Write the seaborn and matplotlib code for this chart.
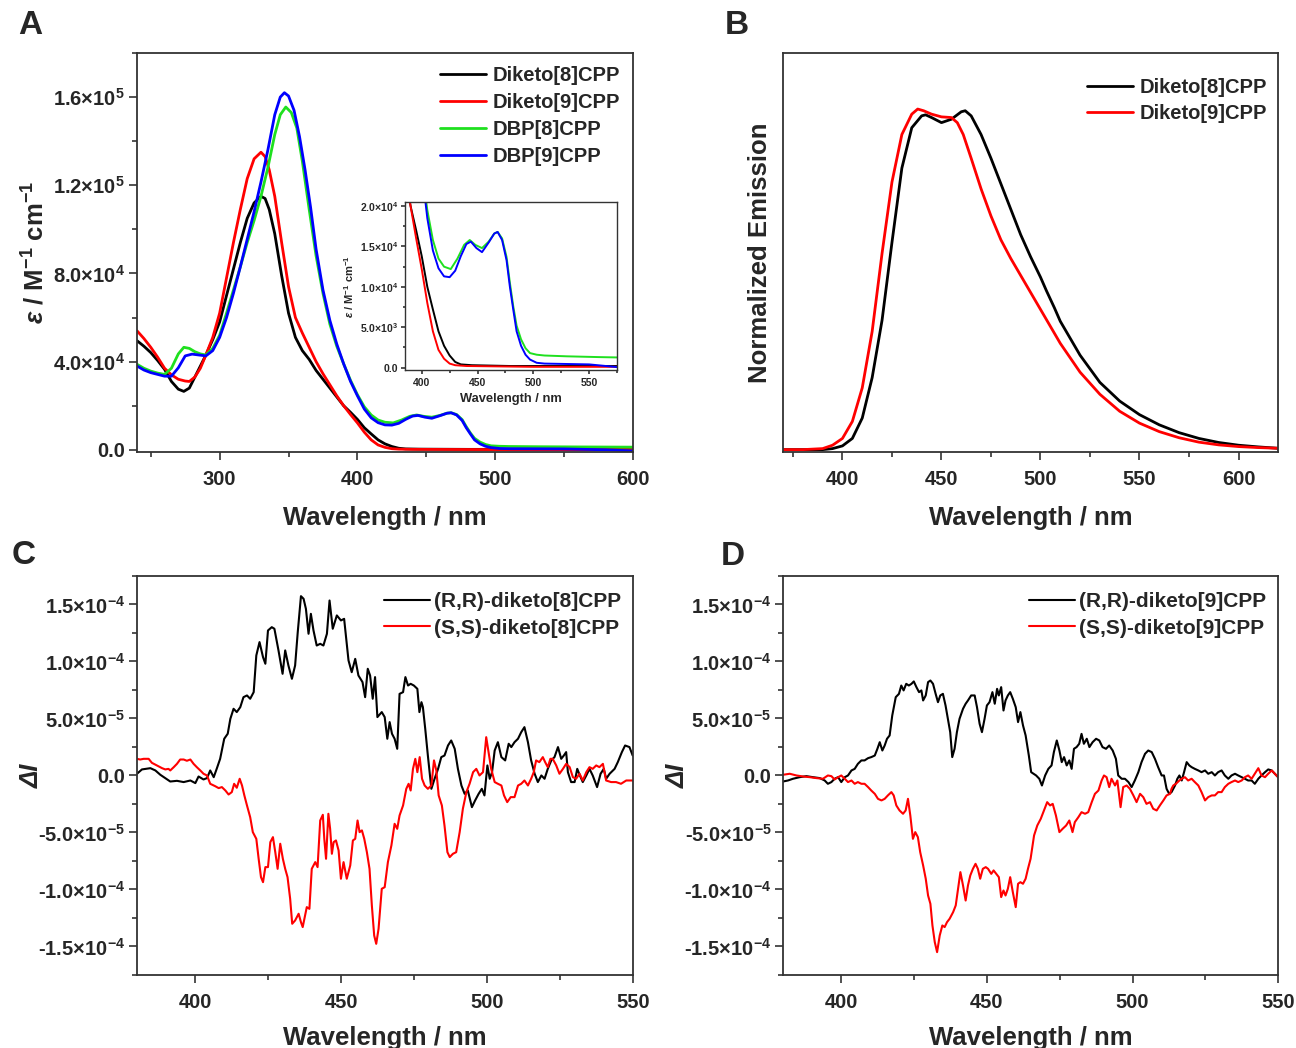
import numpy as np
import pandas as pd
import matplotlib
matplotlib.use("Agg")
import matplotlib.pyplot as plt
from matplotlib.ticker import MultipleLocator, AutoMinorLocator, FuncFormatter
import seaborn as sns

# ---------------- data ----------------
# Panel A: absorption, epsilon in units of 1e4 M^-1 cm^-1
abs_diketo8 = [(240, 4.95), (245, 4.7), (250, 4.41), (255, 4.05), (260, 3.65), (265, 3.1), (270, 2.75),
               (274, 2.65), (278, 2.8), (282, 3.3), (286, 3.8), (290, 4.3), (295, 5.0), (300, 5.8),
               (305, 7.0), (310, 8.2), (315, 9.4), (320, 10.5), (325, 11.2), (330, 11.5), (333, 11.4),
               (336, 10.9), (340, 9.8), (345, 7.9), (350, 6.2), (355, 5.1), (360, 4.5), (365, 4.1),
               (370, 3.6), (375, 3.2), (380, 2.8), (385, 2.4), (390, 2.0), (395, 1.7), (400, 1.38),
               (405, 1.0), (410, 0.72), (415, 0.45), (420, 0.27), (425, 0.15), (430, 0.07), (435, 0.04),
               (445, 0.03), (480, 0.02), (540, 0.02), (600, 0.02)]
abs_diketo9 = [(240, 5.4), (245, 5.05), (250, 4.65), (255, 4.2), (260, 3.7), (265, 3.4), (270, 3.2),
               (275, 3.12), (278, 3.1), (282, 3.3), (286, 3.7), (290, 4.3), (295, 5.1), (300, 6.2),
               (305, 7.8), (310, 9.4), (315, 10.9), (320, 12.3), (325, 13.2), (330, 13.5), (333, 13.3),
               (336, 12.7), (340, 11.5), (345, 9.4), (350, 7.4), (355, 6.0), (360, 5.3), (365, 4.65),
               (370, 4.0), (375, 3.45), (380, 2.95), (385, 2.45), (390, 2.0), (395, 1.6), (400, 1.22),
               (405, 0.8), (410, 0.45), (415, 0.22), (420, 0.11), (425, 0.05), (430, 0.03), (440, 0.02),
               (500, 0.01), (600, 0.01)]
abs_dbp8 = [(240, 3.88), (245, 3.7), (250, 3.57), (255, 3.48), (260, 3.42), (265, 3.7), (270, 4.35),
            (274, 4.65), (278, 4.6), (282, 4.45), (286, 4.35), (290, 4.3), (295, 4.6), (300, 5.2),
            (305, 6.2), (310, 7.25), (315, 8.3), (320, 9.4), (325, 10.4), (330, 11.5), (335, 12.8),
            (340, 14.3), (344, 15.2), (348, 15.55), (352, 15.3), (356, 14.6), (360, 13.1), (365, 10.9),
            (370, 8.8), (375, 7.1), (380, 5.7), (385, 4.7), (390, 3.9), (395, 3.15), (400, 2.5),
            (405, 1.95), (410, 1.58), (415, 1.35), (420, 1.25), (426, 1.22), (432, 1.35), (438, 1.52),
            (443, 1.58), (448, 1.52), (454, 1.48), (460, 1.56), (465, 1.66), (468, 1.68), (472, 1.6),
            (476, 1.37), (479, 1.05), (482, 0.76), (485, 0.52), (489, 0.35), (493, 0.24), (497, 0.18),
            (503, 0.16), (510, 0.15), (530, 0.14), (560, 0.13), (600, 0.12)]
abs_dbp9 = [(240, 3.8), (245, 3.62), (250, 3.5), (255, 3.42), (260, 3.34), (265, 3.34), (270, 3.72),
            (275, 4.26), (280, 4.34), (285, 4.3), (290, 4.26), (295, 4.5), (300, 5.1), (305, 6.0),
            (310, 7.1), (315, 8.3), (320, 9.55), (325, 10.8), (330, 12.15), (335, 13.6), (340, 15.2),
            (344, 16.0), (347, 16.2), (350, 16.05), (354, 15.4), (358, 14.2), (362, 12.7), (366, 11.0),
            (370, 9.1), (375, 7.25), (380, 5.87), (385, 4.8), (390, 3.9), (395, 3.1), (400, 2.45),
            (405, 1.85), (410, 1.45), (415, 1.23), (420, 1.13), (425, 1.12), (430, 1.2), (435, 1.38),
            (440, 1.53), (444, 1.56), (449, 1.48), (454, 1.43), (460, 1.55), (465, 1.66), (468, 1.68),
            (472, 1.58), (476, 1.33), (479, 1.0), (482, 0.72), (485, 0.45), (489, 0.27), (493, 0.16),
            (497, 0.1), (503, 0.06), (510, 0.05), (550, 0.04), (580, 0.0), (600, -0.05)]

# Panel B: normalized emission
em_diketo8 = [(370, 0.002), (380, 0.002), (390, 0.002), (395, 0.005), (400, 0.013), (405, 0.035),
              (410, 0.095), (415, 0.214), (420, 0.383), (425, 0.612), (430, 0.831), (435, 0.95),
              (440, 0.985), (442, 0.988), (445, 0.98), (450, 0.965), (455, 0.975), (460, 0.997),
              (462, 1.0), (465, 0.985), (470, 0.93), (475, 0.86), (480, 0.785), (485, 0.71),
              (490, 0.635), (495, 0.57), (500, 0.51), (503, 0.47), (507, 0.42), (510, 0.38),
              (520, 0.28), (530, 0.2), (540, 0.145), (550, 0.105), (560, 0.075), (570, 0.052),
              (580, 0.035), (590, 0.023), (600, 0.015), (610, 0.01), (620, 0.006)]
em_diketo9 = [(370, 0.002), (380, 0.002), (390, 0.005), (395, 0.015), (400, 0.035), (405, 0.085),
              (410, 0.184), (415, 0.35), (420, 0.58), (425, 0.79), (430, 0.93), (435, 0.99),
              (438, 1.005), (441, 1.0), (445, 0.99), (450, 0.982), (455, 0.98), (458, 0.965),
              (461, 0.93), (465, 0.86), (470, 0.77), (475, 0.69), (480, 0.62), (485, 0.565),
              (490, 0.515), (495, 0.465), (500, 0.415), (505, 0.365), (510, 0.315), (520, 0.23),
              (530, 0.165), (540, 0.115), (550, 0.08), (560, 0.055), (570, 0.037), (580, 0.024),
              (590, 0.016), (600, 0.011), (610, 0.008), (620, 0.006)]

# Panels C/D: CPL, Delta I in units of 1e-5
cpl_rr8 = [(380.0, 0.15), (381.7, 0.53), (384.6, 0.64), (386.3, 0.44), (388.0, 0.06), (391.4, -0.53),
           (393.7, -0.47), (396.0, -0.58), (398.3, -0.44), (400.0, -0.67), (401.1, -0.09), (402.8, -0.35),
           (404.0, -0.23), (405.1, 0.44), (406.3, -0.15), (407.4, 0.64), (408.5, 1.46), (409.9, 3.22),
           (411.1, 3.66), (412.0, 4.97), (413.1, 5.85), (414.2, 5.56), (415.4, 5.99), (416.5, 6.87),
           (417.7, 7.02), (418.8, 6.73), (420.0, 7.31), (420.9, 10.53), (422.0, 11.70), (423.2, 10.38),
           (424.0, 9.80), (424.9, 12.72), (426.2, 13.01), (427.1, 12.87), (428.5, 10.97), (429.9, 8.92),
           (430.8, 10.97), (431.9, 9.65), (433.1, 8.48), (434.2, 9.65), (435.1, 12.57), (436.2, 15.73),
           (437.1, 15.50), (437.9, 14.62), (438.8, 12.43), (439.6, 14.18), (440.5, 12.72), (441.6, 11.40),
           (442.8, 11.55), (443.9, 11.40), (445.1, 12.43), (446.0, 15.35), (447.1, 12.87), (448.5, 14.04),
           (449.9, 13.60), (451.0, 13.74), (452.5, 10.09), (453.6, 9.06), (454.8, 10.23), (455.9, 8.77),
           (457.3, 8.19), (458.2, 6.87), (459.1, 9.36), (459.9, 8.77), (460.8, 6.73), (461.6, 8.63),
           (462.4, 5.12), (463.9, 5.56), (464.9, 5.12), (465.8, 3.22), (466.6, 4.68), (467.4, 3.66),
           (468.3, 3.22), (469.2, 2.34), (470.0, 7.16), (471.2, 7.31), (472.0, 8.63), (472.9, 7.89),
           (473.8, 8.04), (474.9, 7.89), (476.1, 7.60), (476.8, 5.56), (477.5, 6.43), (478.0, 5.99),
           (478.8, 4.09), (479.7, 1.75), (480.9, -1.17), (482.0, -0.29), (483.2, 0.58), (484.3, 1.61),
           (485.4, 1.75), (486.6, 2.63), (487.7, 3.07), (488.9, 2.34), (490.0, 0.58), (491.2, -0.88),
           (492.3, -1.61), (493.4, -1.32), (494.8, -2.78), (495.9, -2.19), (497.1, -1.61), (498.2, -1.17),
           (499.1, -1.75), (500.1, 0.88), (500.9, -0.29), (501.7, 0.29), (502.6, 2.19), (503.7, 2.92),
           (504.9, 1.61), (506.2, 1.32), (507.4, 2.78), (508.3, 2.49), (509.4, 2.92), (510.6, 3.22),
           (511.7, 3.80), (512.8, 4.24), (514.0, 2.92), (515.1, 1.32), (516.3, 0.15), (517.4, -0.58),
           (518.6, 0.00), (519.7, -0.29), (520.8, 0.58), (522.0, 1.32), (523.1, 1.61), (524.3, 2.49),
           (525.4, 1.46), (526.3, 1.75), (527.1, 2.05), (527.7, 0.29), (528.8, -0.58), (530.0, -0.58),
           (530.9, 0.58), (531.8, 0.00), (532.8, -0.58), (534.0, 0.00), (535.1, 0.58), (536.2, 0.00),
           (537.7, -1.02), (538.9, 0.15), (540.0, 0.58), (540.8, -0.29), (542.0, 0.15), (543.7, 0.58),
           (544.8, 1.17), (546.2, 2.05), (547.3, 2.63), (548.8, 2.49), (549.9, 1.75)]
cpl_ss8 = [(380.0, 1.46), (381.1, 1.40), (382.3, 1.46), (384.0, 1.46), (385.1, 1.11), (386.8, 0.88),
           (388.6, 0.64), (389.7, 0.53), (390.8, 0.58), (391.4, 0.44), (392.6, 0.73), (393.7, 1.02),
           (394.8, 1.40), (396.0, 1.40), (397.1, 1.29), (398.3, 1.40), (399.4, 1.02), (400.5, 0.73),
           (401.7, 0.44), (402.8, 0.15), (404.0, 0.00), (405.1, -0.73), (406.8, -0.94), (408.0, -1.11),
           (409.1, -1.02), (410.3, -1.32), (411.4, -1.67), (412.5, -1.46), (413.3, -0.73), (414.2, -1.08),
           (415.2, -0.29), (416.0, -0.88), (416.8, -1.75), (417.7, -2.63), (418.8, -3.66), (419.7, -4.97),
           (420.9, -5.56), (421.7, -7.31), (422.5, -8.92), (423.2, -9.36), (424.0, -8.04), (424.9, -8.04),
           (425.7, -5.85), (426.6, -5.41), (427.4, -6.73), (428.2, -8.19), (429.1, -5.99), (430.0, -7.31),
           (430.8, -8.19), (431.6, -8.92), (432.5, -10.82), (433.2, -13.01), (434.2, -12.72), (435.4, -12.13),
           (436.2, -12.87), (436.8, -13.30), (437.6, -12.28), (438.2, -11.55), (439.1, -11.70), (439.9, -8.19),
           (441.1, -7.60), (441.9, -8.04), (442.8, -3.95), (443.7, -3.45), (444.2, -5.56), (444.8, -7.31),
           (445.6, -3.36), (446.2, -4.68), (446.8, -6.87), (447.4, -5.85), (448.2, -5.70), (449.1, -6.58),
           (449.9, -9.06), (450.8, -7.60), (451.9, -9.06), (453.1, -7.89), (454.0, -5.70), (454.8, -5.56),
           (455.6, -3.95), (456.3, -4.97), (457.1, -4.82), (457.9, -5.56), (458.8, -6.73), (459.7, -8.19),
           (460.5, -11.40), (461.3, -14.04), (462.0, -14.77), (462.8, -13.45), (463.9, -9.94), (464.9, -9.80),
           (466.0, -7.60), (467.2, -6.14), (468.3, -4.24), (469.2, -4.68), (470.0, -3.51), (471.2, -2.63),
           (472.3, -1.17), (473.1, -0.73), (473.8, -1.32), (474.6, 0.58), (475.4, 1.46), (476.1, 0.29),
           (476.9, 1.61), (477.7, -0.29), (478.6, -0.88), (479.7, -1.17), (480.9, -0.88), (481.8, 1.32),
           (482.6, 0.44), (483.4, -1.75), (484.5, -2.63), (485.4, -4.39), (486.4, -6.73), (487.2, -7.16),
           (488.3, -6.87), (489.4, -6.73), (490.6, -4.97), (491.7, -2.92), (492.9, -1.46), (494.0, -0.73),
           (495.2, 0.29), (496.3, 0.58), (497.4, 0.00), (498.6, 0.29), (499.7, 3.36), (500.5, 2.05),
           (501.4, 0.58), (502.6, -0.58), (503.7, -0.73), (504.9, -0.88), (505.8, -1.75), (506.9, -2.34),
           (508.1, -1.90), (509.4, -1.90), (510.6, -0.88), (511.7, -0.73), (512.8, -0.44), (514.0, -0.88),
           (515.1, -0.29), (516.0, 0.29), (516.8, 1.32), (517.9, 1.17), (519.1, 1.61), (519.9, 1.17),
           (520.8, 0.73), (521.7, 1.46), (522.5, 1.46), (523.7, 0.88), (524.8, 0.15), (526.0, 0.58),
           (527.1, 1.02), (528.3, 0.73), (529.4, -0.15), (530.5, -0.29), (531.7, 0.15), (532.8, -0.44),
           (534.0, 0.29), (535.1, 0.73), (536.2, 0.58), (537.4, 0.88), (538.5, 0.73), (539.7, 1.02),
           (540.8, -0.44), (542.5, -0.58), (544.2, -0.58), (545.9, -0.73), (547.7, -0.44), (549.9, -0.44)]
cpl_rr9 = [(380.0, -0.53), (381.7, -0.44), (383.4, -0.29), (385.7, -0.15), (388.0, -0.06), (390.3, -0.15),
           (392.6, -0.23), (394.3, -0.44), (395.4, -0.73), (396.6, -0.58), (397.7, -0.29), (398.9, -0.15),
           (400.0, -0.58), (401.2, -0.15), (402.3, 0.00), (403.5, 0.44), (404.6, 0.58), (405.7, 1.02),
           (406.9, 1.32), (408.0, 1.32), (409.2, 1.52), (410.3, 1.61), (411.5, 1.75), (412.4, 2.34),
           (413.2, 2.92), (414.1, 2.19), (414.9, 2.63), (415.7, 3.22), (416.6, 3.51), (417.5, 5.26),
           (418.7, 6.87), (419.8, 7.16), (420.6, 7.89), (421.4, 7.46), (422.3, 8.04), (423.2, 7.89),
           (424.1, 8.04), (424.9, 8.25), (425.8, 7.75), (426.7, 7.31), (427.5, 7.46), (428.1, 6.58),
           (429.0, 7.02), (429.8, 8.19), (430.6, 8.33), (431.5, 8.04), (432.4, 7.16), (433.2, 6.43),
           (434.0, 7.02), (434.9, 7.16), (435.8, 6.14), (436.6, 4.97), (437.4, 3.80), (438.1, 1.61),
           (438.9, 2.34), (439.7, 3.80), (440.6, 4.97), (441.8, 5.85), (442.7, 6.29), (443.5, 6.58),
           (444.6, 7.02), (445.8, 7.02), (446.6, 5.99), (447.5, 4.53), (448.3, 3.80), (449.2, 4.97),
           (450.0, 6.14), (450.9, 6.43), (451.9, 7.31), (452.7, 6.29), (453.5, 7.60), (454.1, 7.02),
           (454.9, 7.75), (455.7, 5.70), (456.4, 6.58), (457.2, 7.02), (458.0, 7.31), (458.9, 6.73),
           (459.9, 5.99), (460.7, 4.68), (461.5, 5.56), (462.4, 4.39), (463.3, 3.51), (464.4, 1.75),
           (465.2, 0.29), (466.9, 0.00), (468.0, -0.29), (468.9, -0.88), (470.0, 0.00), (471.1, 0.58),
           (472.2, 0.88), (473.0, 2.05), (474.0, 3.07), (474.9, 2.19), (475.7, 1.17), (476.5, 1.61),
           (477.4, 0.88), (478.3, 1.32), (479.1, 0.58), (479.9, 2.34), (480.8, 2.49), (481.7, 2.78),
           (482.5, 3.65), (483.3, 2.78), (484.3, 3.22), (485.2, 2.49), (486.3, 2.92), (487.5, 3.22),
           (488.6, 3.07), (489.7, 2.49), (490.9, 2.34), (492.0, 2.63), (493.2, 2.19), (494.3, 1.46),
           (495.1, 0.00), (496.3, -0.29), (497.4, -0.29), (498.6, -0.58), (499.7, -1.02), (500.8, -0.44),
           (502.0, 0.29), (503.1, 1.17), (504.3, 1.90), (505.4, 2.19), (506.6, 2.05), (507.7, 1.46),
           (508.8, 0.73), (510.0, 0.00), (510.8, 0.00), (511.7, -1.17), (512.6, -1.61), (513.4, -1.46),
           (514.6, -0.88), (515.4, -0.29), (516.1, 0.00), (516.9, -0.44), (517.7, 0.29), (518.6, 1.17),
           (519.5, 0.88), (520.3, 0.73), (521.4, 0.58), (522.6, 0.44), (523.7, 0.29), (524.9, 0.44),
           (526.0, 0.15), (527.2, 0.29), (528.3, 0.00), (529.4, 0.29), (530.6, 0.44), (531.7, 0.00),
           (532.9, -0.29), (534.0, 0.00), (535.2, 0.15), (536.3, 0.00), (537.5, -0.15), (538.6, -0.29),
           (539.7, -0.44), (540.9, -0.44), (542.0, -0.73), (543.2, -0.29), (544.3, 0.00), (545.5, 0.29),
           (546.6, 0.53), (547.8, 0.44), (548.9, 0.15), (550.0, -0.15)]
cpl_ss9 = [(380.0, 0.06), (382.3, 0.15), (384.6, 0.00), (386.9, -0.09), (389.2, -0.15), (391.4, -0.23),
           (393.7, -0.29), (395.4, 0.00), (396.6, -0.06), (397.7, -0.35), (398.9, -0.15), (400.0, 0.00),
           (401.2, -0.29), (402.3, -0.58), (403.5, -0.44), (404.6, -0.73), (405.7, -0.58), (406.9, -0.73),
           (408.0, -0.73), (409.2, -1.02), (410.3, -1.32), (411.5, -1.61), (412.6, -2.05), (413.8, -2.19),
           (414.9, -2.05), (416.0, -1.75), (417.2, -1.46), (418.0, -1.75), (418.9, -2.63), (420.0, -3.07),
           (421.2, -3.36), (422.1, -3.07), (422.9, -2.05), (423.7, -3.51), (424.6, -5.56), (425.4, -4.97),
           (426.3, -5.41), (427.1, -6.73), (428.1, -7.89), (429.0, -9.06), (429.8, -10.53), (430.6, -11.26),
           (431.3, -13.16), (432.1, -14.62), (432.9, -15.50), (433.8, -14.04), (434.7, -13.16), (435.5, -13.30),
           (436.3, -12.87), (437.2, -12.57), (438.4, -11.99), (439.3, -11.40), (440.1, -9.94), (440.9, -8.48),
           (441.8, -9.65), (442.7, -10.97), (443.5, -9.65), (444.3, -8.77), (445.2, -8.19), (446.1, -7.75),
           (446.9, -8.19), (447.7, -9.06), (448.6, -8.19), (449.6, -8.04), (450.4, -8.19), (451.5, -8.63),
           (452.3, -8.33), (453.2, -8.63), (454.1, -8.92), (454.9, -10.67), (455.7, -10.09), (456.4, -10.53),
           (457.2, -9.94), (458.0, -8.92), (458.9, -10.23), (459.9, -11.55), (460.7, -9.50), (461.5, -9.36),
           (462.4, -9.50), (463.3, -9.06), (464.1, -8.19), (465.0, -7.31), (466.2, -5.26), (467.3, -4.39),
           (468.5, -3.80), (469.6, -3.07), (470.7, -2.34), (471.7, -2.63), (472.6, -2.49), (473.7, -3.51),
           (474.9, -4.97), (476.0, -4.68), (477.2, -4.39), (478.3, -3.95), (479.4, -4.97), (480.2, -4.09),
           (481.4, -3.66), (482.5, -3.22), (483.7, -3.36), (484.8, -3.22), (486.0, -2.34), (487.1, -1.61),
           (488.3, -1.32), (489.4, -0.44), (490.2, 0.00), (491.1, -0.15), (492.0, -1.02), (492.8, -0.29),
           (494.0, -0.88), (494.8, -0.44), (495.9, -2.78), (496.8, -1.02), (498.0, -0.88), (499.1, -1.17),
           (500.3, -1.75), (501.4, -2.34), (502.6, -1.61), (503.7, -1.90), (504.8, -2.49), (506.0, -2.34),
           (507.1, -2.92), (508.3, -3.07), (509.4, -2.63), (510.6, -2.19), (511.7, -1.75), (512.9, -1.61),
           (513.4, -1.17), (514.0, -0.88), (514.9, -0.73), (516.1, -0.44), (516.9, -0.29), (518.0, -0.15),
           (519.1, -0.44), (520.3, -0.29), (521.4, -0.58), (522.6, -0.88), (523.7, -1.46), (524.9, -2.19),
           (526.0, -1.90), (527.2, -1.75), (528.3, -1.75), (529.4, -1.46), (530.6, -1.46), (531.7, -1.02),
           (532.9, -0.73), (534.0, -0.58), (535.2, -0.44), (536.3, -0.58), (537.5, -0.44), (538.6, -0.15),
           (539.7, 0.00), (540.9, -0.29), (542.0, 0.15), (543.2, 0.64), (544.3, 0.00), (545.5, -0.15),
           (546.6, 0.15), (547.8, 0.44), (548.9, 0.15), (550.0, -0.15)]

abs_labels = ["Diketo[8]CPP", "Diketo[9]CPP", "DBP[8]CPP", "DBP[9]CPP"]
cpl8_labels = ["(R,R)-diketo[8]CPP", "(S,S)-diketo[8]CPP"]
cpl9_labels = ["(R,R)-diketo[9]CPP", "(S,S)-diketo[9]CPP"]
colors = ["black", "#ff0000", "#1fe01f", "#0000ff"]

# ---------------- style ----------------
sns.set_theme(style="white")
plt.rcParams["font.family"] = ["Liberation Sans", "DejaVu Sans"]
plt.rcParams["font.weight"] = "bold"
plt.rcParams["axes.labelweight"] = "bold"
plt.rcParams["mathtext.fontset"] = "custom"
plt.rcParams["mathtext.rm"] = "Liberation Sans:bold"
plt.rcParams["mathtext.bf"] = "Liberation Sans:bold"
plt.rcParams["mathtext.it"] = "Liberation Sans:italic:bold"
plt.rcParams["mathtext.default"] = "bf"


def to_df(pairs, scale):
    d = pd.DataFrame(pairs, columns=["wl", "val"])
    d["val"] = d["val"] * scale
    return d


def sci(v, pos):
    if abs(v) < 1e-12:
        return "0.0"
    e = int(np.floor(np.log10(abs(v)) + 1e-9))
    m = v / 10 ** e
    return f"{m:.1f}×$10^{{{e}}}$"


def style(ax, lsize=14.5):
    for s in ax.spines.values():
        s.set_color("#333333")
        s.set_linewidth(1.3)
    ax.tick_params(which="both", direction="out", color="#333333", width=1.2,
                   top=False, right=False, bottom=True, left=True)
    ax.tick_params(which="major", length=6)
    ax.tick_params(which="minor", length=3.5)
    ax.tick_params(axis="x", pad=7, labelsize=lsize)
    ax.tick_params(axis="y", pad=2.5, labelsize=lsize)


leg_prop = {"weight": "bold", "size": 14.5}

fig = plt.figure(figsize=(12.96, 10.48), dpi=100)
axA = fig.add_axes([0.1057, 0.5687, 0.3827, 0.3807])
axB = fig.add_axes([0.6042, 0.5687, 0.3820, 0.3807])
axC = fig.add_axes([0.1057, 0.0697, 0.3827, 0.3807])
axD = fig.add_axes([0.6042, 0.0697, 0.3820, 0.3807])

# ---- A ----
abs_series = [abs_diketo8, abs_diketo9, abs_dbp8, abs_dbp9]
for pairs, lab, col in zip(abs_series, abs_labels, colors):
    d = to_df(pairs, 1e4)
    sns.lineplot(data=d, x="wl", y="val", ax=axA, color=col, lw=2.0, label=lab, estimator=None)
axA.set_xlim(240, 600)
axA.set_ylim(-1000, 1.8e5)
axA.xaxis.set_major_locator(MultipleLocator(100))
axA.xaxis.set_minor_locator(AutoMinorLocator(2))
axA.yaxis.set_major_locator(MultipleLocator(4e4))
axA.yaxis.set_minor_locator(AutoMinorLocator(2))
axA.yaxis.set_major_formatter(FuncFormatter(sci))
style(axA)
axA.set_xlabel("Wavelength / nm", fontsize=18.5, labelpad=12)
axA.set_ylabel(r"$\mathit{\varepsilon}$ / M$^{-1}$ cm$^{-1}$", fontsize=18.5, labelpad=3)
axA.legend(loc="upper right", frameon=False, prop=leg_prop, handlelength=2.3,
           handletextpad=0.3, labelspacing=0.4, borderaxespad=0.2, borderpad=0.45)

ins = fig.add_axes([0.3125, 0.6469, 0.1636, 0.1603])
for pairs, col in zip(abs_series, colors):
    d = to_df(pairs, 1e4)
    sns.lineplot(data=d, x="wl", y="val", ax=ins, color=col, lw=1.4, estimator=None, legend=False)
ins.set_xlim(385, 575)
ins.set_ylim(-300, 2.05e4)
ins.xaxis.set_major_locator(MultipleLocator(50))
ins.xaxis.set_minor_locator(AutoMinorLocator(2))
ins.yaxis.set_major_locator(MultipleLocator(5e3))
ins.yaxis.set_minor_locator(AutoMinorLocator(2))
ins.yaxis.set_major_formatter(FuncFormatter(sci))
style(ins, lsize=7.5)
ins.tick_params(which="major", length=3)
ins.tick_params(which="minor", length=1.8)
ins.tick_params(axis="x", pad=3)
ins.tick_params(axis="y", pad=2)
for s in ins.spines.values():
    s.set_linewidth(1.0)
ins.set_xlabel("Wavelength / nm", fontsize=9.3, labelpad=3)
ins.set_ylabel(r"$\mathit{\varepsilon}$ / M$^{-1}$ cm$^{-1}$", fontsize=8, labelpad=3)

# ---- B ----
for pairs, lab, col in zip([em_diketo8, em_diketo9], abs_labels[:2], colors[:2]):
    d = to_df(pairs, 1.0)
    sns.lineplot(data=d, x="wl", y="val", ax=axB, color=col, lw=2.0, label=lab, estimator=None)
axB.set_xlim(370, 620)
axB.set_ylim(-0.005, 1.17)
axB.xaxis.set_major_locator(MultipleLocator(50))
axB.xaxis.set_minor_locator(AutoMinorLocator(2))
style(axB)
axB.set_yticks([])
axB.set_xlabel("Wavelength / nm", fontsize=18.5, labelpad=12)
axB.set_ylabel("Normalized Emission", fontsize=18.5, labelpad=8)
axB.legend(loc="upper right", bbox_to_anchor=(1.0, 0.965), frameon=False, prop=leg_prop,
           handlelength=2.3, handletextpad=0.3, labelspacing=0.35, borderaxespad=0.2, borderpad=0.35)

# ---- C / D ----
for ax, series, labs in [(axC, [cpl_rr8, cpl_ss8], cpl8_labels), (axD, [cpl_rr9, cpl_ss9], cpl9_labels)]:
    for pairs, lab, col in zip(series, labs, colors[:2]):
        d = to_df(pairs, 1e-5)
        sns.lineplot(data=d, x="wl", y="val", ax=ax, color=col, lw=1.5, label=lab, estimator=None)
    ax.set_xlim(380, 550)
    ax.set_ylim(-1.75e-4, 1.75e-4)
    ax.xaxis.set_major_locator(MultipleLocator(50))
    ax.xaxis.set_minor_locator(AutoMinorLocator(2))
    ax.yaxis.set_major_locator(MultipleLocator(5e-5))
    ax.yaxis.set_minor_locator(AutoMinorLocator(2))
    ax.yaxis.set_major_formatter(FuncFormatter(sci))
    style(ax)
    ax.set_xlabel("Wavelength / nm", fontsize=18.5, labelpad=10)
    ax.set_ylabel("ΔI", fontsize=18.5, fontstyle="italic", labelpad=-4)
    ax.legend(loc="upper right", bbox_to_anchor=(0.997, 0.985), frameon=False,
              prop={"weight": "bold", "size": 15}, handlelength=2.2, handletextpad=0.2,
              labelspacing=0.35, borderaxespad=0.15, borderpad=0.35)

# panel letters
for x, y, t in [(0.014, 0.976, "A"), (0.559, 0.976, "B"), (0.009, 0.47, "C"), (0.556, 0.469, "D")]:
    fig.text(x, y, t, fontsize=24, fontweight="bold", ha="left", va="center")

fig.savefig("out.png", dpi=100)
